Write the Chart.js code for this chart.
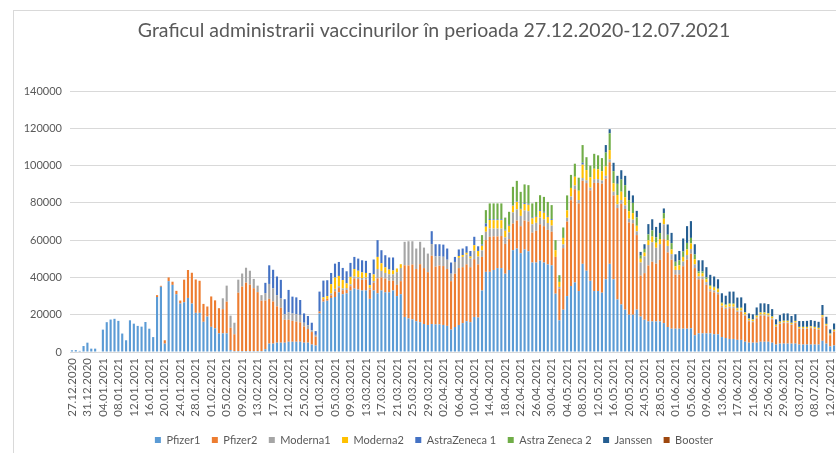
<!DOCTYPE html>
<html><head><meta charset="utf-8">
<script src="https://cdn.jsdelivr.net/npm/chart.js@4.4.1/dist/chart.umd.min.js"></script>
<style>
html,body{margin:0;padding:0;background:#fff;overflow:hidden}
#wrap{position:relative;width:836px;height:453px;overflow:hidden}
#frame{position:absolute;left:13px;top:10px;width:900px;height:500px;border:1px solid #d9d9d9;box-sizing:border-box}
canvas{position:absolute;left:0;top:0}
</style></head><body>
<div id="wrap"><div id="frame"></div><canvas id="c" width="836" height="453"></canvas></div>
<script>
const titleText = 'Graficul administrarii vaccinurilor în perioada 27.12.2020-12.07.2021';

const categories = [
"27.12.2020","28.12.2020","29.12.2020","30.12.2020","31.12.2020",
"01.01.2021","02.01.2021","03.01.2021","04.01.2021","05.01.2021","06.01.2021","07.01.2021","08.01.2021","09.01.2021","10.01.2021","11.01.2021","12.01.2021","13.01.2021","14.01.2021","15.01.2021","16.01.2021","17.01.2021","18.01.2021","19.01.2021","20.01.2021","21.01.2021","22.01.2021","23.01.2021","24.01.2021","25.01.2021","26.01.2021","27.01.2021","28.01.2021","29.01.2021","30.01.2021","31.01.2021",
"01.02.2021","02.02.2021","03.02.2021","04.02.2021","05.02.2021","06.02.2021","07.02.2021","08.02.2021","09.02.2021","10.02.2021","11.02.2021","12.02.2021","13.02.2021","14.02.2021","15.02.2021","16.02.2021","17.02.2021","18.02.2021","19.02.2021","20.02.2021","21.02.2021","22.02.2021","23.02.2021","24.02.2021","25.02.2021","26.02.2021","27.02.2021","28.02.2021",
"01.03.2021","02.03.2021","03.03.2021","04.03.2021","05.03.2021","06.03.2021","07.03.2021","08.03.2021","09.03.2021","10.03.2021","11.03.2021","12.03.2021","13.03.2021","14.03.2021","15.03.2021","16.03.2021","17.03.2021","18.03.2021","19.03.2021","20.03.2021","21.03.2021","22.03.2021","23.03.2021","24.03.2021","25.03.2021","26.03.2021","27.03.2021","28.03.2021","29.03.2021","30.03.2021","31.03.2021",
"01.04.2021","02.04.2021","03.04.2021","04.04.2021","05.04.2021","06.04.2021","07.04.2021","08.04.2021","09.04.2021","10.04.2021","11.04.2021","12.04.2021","13.04.2021","14.04.2021","15.04.2021","16.04.2021","17.04.2021","18.04.2021","19.04.2021","20.04.2021","21.04.2021","22.04.2021","23.04.2021","24.04.2021","25.04.2021","26.04.2021","27.04.2021","28.04.2021","29.04.2021","30.04.2021",
"01.05.2021","02.05.2021","03.05.2021","04.05.2021","05.05.2021","06.05.2021","07.05.2021","08.05.2021","09.05.2021","10.05.2021","11.05.2021","12.05.2021","13.05.2021","14.05.2021","15.05.2021","16.05.2021","17.05.2021","18.05.2021","19.05.2021","20.05.2021","21.05.2021","22.05.2021","23.05.2021","24.05.2021","25.05.2021","26.05.2021","27.05.2021","28.05.2021","29.05.2021","30.05.2021","31.05.2021",
"01.06.2021","02.06.2021","03.06.2021","04.06.2021","05.06.2021","06.06.2021","07.06.2021","08.06.2021","09.06.2021","10.06.2021","11.06.2021","12.06.2021","13.06.2021","14.06.2021","15.06.2021","16.06.2021","17.06.2021","18.06.2021","19.06.2021","20.06.2021","21.06.2021","22.06.2021","23.06.2021","24.06.2021","25.06.2021","26.06.2021","27.06.2021","28.06.2021","29.06.2021","30.06.2021",
"01.07.2021","02.07.2021","03.07.2021","05.07.2021","06.07.2021","07.07.2021","08.07.2021","09.07.2021","10.07.2021","11.07.2021","12.07.2021","13.07.2021"
];

const seriesNames = ['Pfizer1','Pfizer2','Moderna1','Moderna2','AstraZeneca 1','Astra Zeneca 2','Janssen','Booster'];

const pfizer1 = [
900,1000,600,3200,5000,1800,1800,300,12000,16000,17400,17800,16700,9900,6300,17000,15200,14000,13600,16100,12500,8000,
29500,35000,4500,38000,36000,31000,26000,
26700,29000,26000,21000,21000,16200,19000,13500,12700,10000,10000,10000,
1000,500,500,500,500,500,500,500,500,
1500,4500,4500,5000,5000,5000,5500,5500,5500,5500,5000,5000,4000,3500,
20700,27000,27500,29000,29500,32000,31000,31500,33000,34000,33500,33000,33000,28500,33000,31500,33000,32000,32000,33000,30000,31000,
18800,18000,17500,16500,16000,15000,14500,
15000,14800,14800,14500,14000,12000,13400,14500,15500,16500,16000,18800,18500,
33000,43000,43000,44000,45000,45000,42000,44000,54600,55500,53000,55000,54000,48000,48000,49000,48000,47000,46500,
31300,17000,22700,30000,35400,37300,32700,47300,43600,38200,32700,32700,31800,39000,47300,39000,28200,25500,22700,20000,20000,22700,
19000,17300,16400,16400,16400,16400,15500,13400,12500,12500,12500,12500,12500,12700,9000,10000,10000,
10000,10000,9500,9500,8000,7500,7000,7000,6500,6500,5500,5000,5000,5000,5500,5500,5500,5000,4000,4500,4500,4500,4500,4500,4000,4000,4000,4000,4000,4000,6000,4500,3000,3500
];

const pfizer2 = [
0,0,0,0,0,0,0,0,0,0,0,0,0,0,0,0,0,0,0,0,0,0,
1000,500,1800,2000,1700,1800,1600,
12100,15000,16500,17900,17200,9600,5400,16300,15000,13500,13000,17000,
12000,9000,31300,34600,36700,35600,33700,31600,27000,
26100,24000,22600,19500,18700,12300,11800,11200,10800,10400,8700,7300,6700,4700,
1000,1300,1000,1400,3000,2300,2100,1800,2300,5500,5600,5700,5900,4900,4100,8000,7000,7400,6200,5200,6000,7000,
27700,28400,29400,28000,31100,30000,28300,
36600,31000,31500,31600,30500,26000,28600,30500,30000,30500,29500,31000,28500,
18000,17000,18800,18000,17000,17200,16000,16500,14300,15000,14500,15500,16000,16000,17000,19500,19500,18500,18000,
19700,17000,33000,40000,46000,50000,47000,44500,47000,48500,58000,58000,58500,54000,54500,45000,49000,54000,54000,49500,49000,40000,
22000,25000,30000,32000,31000,33000,45000,40000,37000,29000,29000,33500,37000,40000,36000,29000,29000,
26000,22500,22500,21500,16000,15500,16500,16500,15000,15000,14000,11500,11000,13000,14000,14000,13500,12500,9500,10500,11000,11000,10000,11000,8500,8500,8500,8800,8500,8000,12500,9500,6000,7500
];

const moderna1 = [
0,0,0,0,0,0,0,0,0,0,0,0,0,0,0,0,0,0,0,0,0,0,
0,0,0,0,0,0,0,
0,0,0,0,0,0,0,0,0,0,5800,8600,
6500,6200,7000,7000,8000,7500,5000,3500,3000,
4000,8000,7000,6000,5000,3000,4000,4000,4000,4000,2000,2000,1000,1000,
0,0,0,1000,1400,1000,1000,1000,1000,1000,1000,1000,1000,1000,1000,5000,3500,3000,3500,3500,6800,7100,
12600,13000,12500,11000,12000,11000,10000,
6300,5500,5000,5000,5000,4000,6300,5500,5500,5200,4700,4500,4200,
3500,4500,4500,4200,4200,4000,3500,3700,6000,6000,5500,5400,5500,4500,4300,3600,3700,3700,3300,
0,900,2000,2000,2000,2000,1800,1500,1500,1500,2000,2000,1700,1500,1500,2000,2000,2000,2000,2000,2000,2000,
7000,9000,11000,10500,8500,8500,8000,3500,3000,2500,2500,2500,2500,2500,2000,1500,1500,
1500,1200,1000,1000,800,800,800,800,700,700,600,500,500,500,600,600,600,500,400,400,400,400,400,400,300,300,300,300,300,300,400,300,300,300
];

const moderna2 = [
0,0,0,0,0,0,0,0,0,0,0,0,0,0,0,0,0,0,0,0,0,0,
0,0,0,0,0,0,0,
0,0,0,0,0,0,0,0,0,0,0,0,
0,0,0,0,0,0,0,0,0,
0,0,0,0,0,0,0,0,0,0,0,0,0,0,
0,1000,1500,5000,6000,5500,4500,2500,4000,4000,3500,3000,2500,1500,3500,6500,4100,3000,2500,2000,2000,2000,
0,0,0,0,0,0,0,
0,0,0,0,0,0,0,1000,1000,1000,1000,3000,3000,
2500,2700,4500,4500,4500,4500,3600,3500,3600,4000,3500,3500,3500,3200,3200,3500,3500,3300,3000,
3600,2700,3500,4000,4600,4700,5000,7200,5500,5500,5600,5300,5000,5000,5000,4500,5000,4500,4300,4000,3500,3000,
2000,2000,2500,3000,2700,2700,3000,3000,2500,2000,2500,2500,3000,3000,2800,1700,1700,
1500,1500,1500,1500,1200,1200,1300,1300,1200,1200,1000,800,800,900,1000,1000,1000,900,700,800,800,800,700,700,600,600,600,600,600,600,800,700,500,600
];

const astraZeneca1 = [
0,0,0,0,0,0,0,0,0,0,0,0,0,0,0,0,0,0,0,0,0,0,
0,0,0,0,0,0,0,
0,0,0,0,0,0,0,0,0,0,0,0,
0,0,0,0,0,0,0,0,0,
5500,10000,10000,10000,10000,8000,12000,9000,9000,8000,5000,5000,4000,2000,
10700,9000,8500,6000,7500,7500,6500,6500,7500,6500,6500,6500,6500,6500,8000,9000,7000,6500,6500,7000,0,0,
0,0,0,0,0,0,0,
6900,6500,6500,6500,6000,6000,2700,3500,3500,3500,3000,4500,2500,
700,1800,500,500,500,500,500,500,300,300,400,500,500,500,500,500,500,500,500,
0,0,0,0,0,0,0,1000,0,0,0,0,0,0,0,0,0,0,0,0,0,0,
0,0,0,0,0,0,0,0,0,0,0,0,0,0,0,0,0,
0,0,0,0,0,0,0,0,0,0,0,0,0,0,0,0,0,0,0,0,0,0,0,0,0,0,0,0,0,0,0,0,0,0
];

const astraZeneca2 = [
0,0,0,0,0,0,0,0,0,0,0,0,0,0,0,0,0,0,0,0,0,0,
0,0,0,0,0,0,0,
0,0,0,0,0,0,0,0,0,0,0,0,
0,0,0,0,0,0,0,0,0,
0,0,0,0,0,0,0,0,0,0,0,0,0,0,
0,0,0,0,0,0,0,0,0,0,0,0,0,0,0,0,0,0,0,0,0,0,
0,0,0,0,0,0,0,
0,0,0,0,0,0,0,0,0,0,0,0,0,
5000,7100,8400,8500,8500,8500,6500,7000,9800,11000,9000,10000,10000,7500,7500,8000,8000,7500,7500,
5400,3600,5600,8000,7000,7000,7000,9500,6900,6300,8000,7500,7000,7500,9000,6500,6000,6500,6500,6000,5500,4500,
1700,2000,3200,3300,3000,3200,3000,3000,3400,2400,2700,2900,3500,3000,2500,1000,1000,
1000,700,500,500,500,500,500,500,300,400,300,200,200,200,200,200,200,200,100,100,100,100,100,100,100,100,100,100,100,100,100,100,100,100
];

const janssen = [
0,0,0,0,0,0,0,0,0,0,0,0,0,0,0,0,0,0,0,0,0,0,
0,0,0,0,0,0,0,
0,0,0,0,0,0,0,0,0,0,0,0,
0,0,0,0,0,0,0,0,0,
0,0,0,0,0,0,0,0,0,0,0,0,0,0,
0,0,0,0,0,0,0,0,0,0,0,0,0,0,0,0,0,0,0,0,0,0,
0,0,0,0,0,0,0,
0,0,0,0,0,0,0,0,0,0,0,0,0,
0,0,0,0,0,0,0,0,0,0,0,0,0,0,0,0,0,0,0,
0,0,0,0,0,0,0,0,0,0,0,0,0,4000,2200,4500,4300,5000,5000,5000,4000,3500,
2000,2500,5500,6000,5500,5500,2500,5500,5500,4000,5000,7000,9000,9000,5500,6000,6000,
5500,5500,5500,5000,5000,4700,6300,6300,5500,5500,4700,2700,2700,4300,4800,4800,4900,3900,2800,3500,3900,3900,3600,3600,3100,3100,3200,3300,3200,3200,5400,3800,2200,3300
];

const booster = [
0,0,0,0,0,0,0,0,0,0,0,0,0,0,0,0,0,0,0,0,0,0,
0,0,0,0,0,0,0,
0,0,0,0,0,0,0,0,0,0,0,0,
0,0,0,0,0,0,0,0,0,
0,0,0,0,0,0,0,0,0,0,0,0,0,0,
0,0,0,0,0,0,0,0,0,0,0,0,0,0,0,0,0,0,0,0,0,0,
0,0,0,0,0,0,0,
0,0,0,0,0,0,0,0,0,0,0,0,0,
0,0,0,0,0,0,0,0,0,0,0,0,0,0,0,0,0,0,0,
0,0,0,0,0,0,0,0,0,0,0,0,0,0,0,0,0,0,0,0,0,0,
0,0,0,0,0,0,0,0,0,0,0,0,0,0,0,0,0,
0,0,0,0,0,0,0,0,0,0,0,0,0,0,0,0,0,0,0,0,0,0,0,0,0,0,0,0,0,0,0,0,0,0
];

const yTicks = [0,20000,40000,60000,80000,100000,120000,140000];

const seriesValues = [pfizer1,pfizer2,moderna1,moderna2,astraZeneca1,astraZeneca2,janssen,booster];
const seriesColors = ['#5B9BD5','#ED7D31','#A5A5A5','#FFC000','#4472C4','#70AD47','#255E91','#9E480E'];

seriesValues.forEach((a,k)=>{ if(a.length!==categories.length) throw new Error(seriesNames[k]+' length '+a.length+' vs '+categories.length); });

const txt = '#595959';
new Chart(document.getElementById('c'), {
  type: 'bar',
  data: {
    labels: categories,
    datasets: seriesNames.map((n,k)=>({
      label: n, data: seriesValues[k], backgroundColor: seriesColors[k], borderWidth: 0,
      barPercentage: 0.55, categoryPercentage: 1.0
    }))
  },
  options: {
    responsive: false, animation: false, devicePixelRatio: 1,
    layout: { padding: { left: 16, right: -16, top: 0, bottom: -2.5 } },
    plugins: {
      title: { display: true, text: titleText, color: txt,
        font: { family: 'Lato', size: 19.5, weight: 'normal' },
        padding: { top: 19.3, bottom: 48.3 } },
      legend: { position: 'bottom',
        labels: { boxWidth: 6, boxHeight: 6, padding: 11.5, color: txt,
          font: { family: 'Lato', size: 11 } } },
      tooltip: { enabled: false }
    },
    scales: {
      x: {
        stacked: true,
        grid: { display: false, drawTicks: false },
        border: { display: true, color: '#d9d9d9' },
        ticks: { autoSkip: false, minRotation: 90, maxRotation: 90, padding: 6, color: txt,
          font: { family: 'Lato', size: 11.5 },
          callback: function(v, i) { return i % 4 === 0 ? this.getLabelForValue(v) : ''; } },
        afterFit: function(s) { s.paddingLeft = 0; s.paddingRight = 0; s.height = 71; }
      },
      y: {
        stacked: true, min: yTicks[0], max: yTicks[yTicks.length-1],
        afterBuildTicks: function(s) { s.ticks = yTicks.map(v => ({ value: v })); },
        grid: { color: '#d9d9d9', drawTicks: false },
        border: { display: false },
        ticks: { padding: 8, color: txt, font: { family: 'Lato', size: 11 },
          callback: function(v) { return String(v); } },
        afterFit: function(s) { s.width = 54; s.paddingTop = 0; s.paddingBottom = 0; }
      }
    }
  }
});
</script>
</body></html>
